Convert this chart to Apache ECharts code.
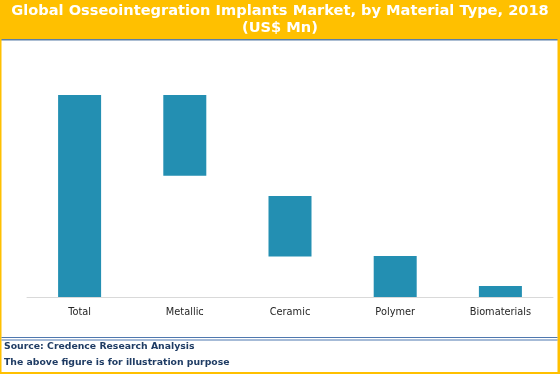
<!DOCTYPE html>
<html><head><meta charset="utf-8">
<script src="https://cdn.jsdelivr.net/npm/echarts@6/dist/echarts.min.js"></script>
<style>html,body{margin:0;padding:0;background:#fff}#c{width:560px;height:374px}</style>
</head><body><div id="c"></div>
<script>
var categories = ['Total', 'Metallic', 'Ceramic', 'Polymer', 'Biomaterials'];
var baseValues = [0, 60, 20, 0, 0];
var barValues = [100, 40, 30, 20.3, 5.4];
var titleText = 'Global Osseointegration Implants Market, by Material Type, 2018\n(US$ Mn)';
var sourceLines = ['Source: Credence Research Analysis', 'The above figure is for illustration purpose'];

var chart = echarts.init(document.getElementById('c'), null, {renderer: 'canvas'});
var orange = '#FFC000';
chart.setOption({
  animation: false,
  backgroundColor: '#fff',
  title: {
    text: titleText, left: 'center', top: 3, padding: 0,
    textStyle: {color: '#fff', fontFamily: 'DejaVu Sans', fontWeight: 'bold', fontSize: 14.6, lineHeight: 17}
  },
  graphic: [
    {type: 'rect', shape: {x: 0, y: 0, width: 560, height: 39}, style: {fill: orange}, z: -1},
    {type: 'rect', shape: {x: 0, y: 39, width: 560, height: 1.5}, style: {fill: '#5B7FA8'}, z: -1},
    {type: 'rect', shape: {x: 0, y: 0, width: 1.5, height: 374}, style: {fill: orange}},
    {type: 'rect', shape: {x: 557.5, y: 0, width: 2.5, height: 374}, style: {fill: orange}},
    {type: 'rect', shape: {x: 0, y: 372, width: 560, height: 2}, style: {fill: orange}},
    {type: 'rect', shape: {x: 1.5, y: 337, width: 556, height: 1}, style: {fill: '#4F78AF'}},
    {type: 'rect', shape: {x: 1.5, y: 339.5, width: 556, height: 1}, style: {fill: '#4F78AF'}},
    {type: 'text', left: 4, top: 342, style: {text: sourceLines[0], fill: '#1F3C64', font: 'bold 9.3px "DejaVu Sans"'}},
    {type: 'text', left: 4, top: 358, style: {text: sourceLines[1], fill: '#1F3C64', font: 'bold 9.3px "DejaVu Sans"'}}
  ],
  grid: {left: 27, right: 7, top: 95, bottom: 77, containLabel: false},
  xAxis: {
    type: 'category', data: categories,
    axisLine: {lineStyle: {color: '#D9D9D9', width: 1}},
    axisTick: {show: false},
    axisLabel: {color: '#262626', fontFamily: 'DejaVu Sans', fontSize: 9.8, margin: 10}
  },
  yAxis: {type: 'value', min: 0, max: 100, show: false, splitLine: {show: false}},
  series: [
    {type: 'bar', stack: 'w', data: baseValues, itemStyle: {color: 'transparent'}, barWidth: 43, silent: true},
    {type: 'bar', stack: 'w', data: barValues, itemStyle: {color: '#238FB2'}, barWidth: 43}
  ]
});
</script></body></html>
